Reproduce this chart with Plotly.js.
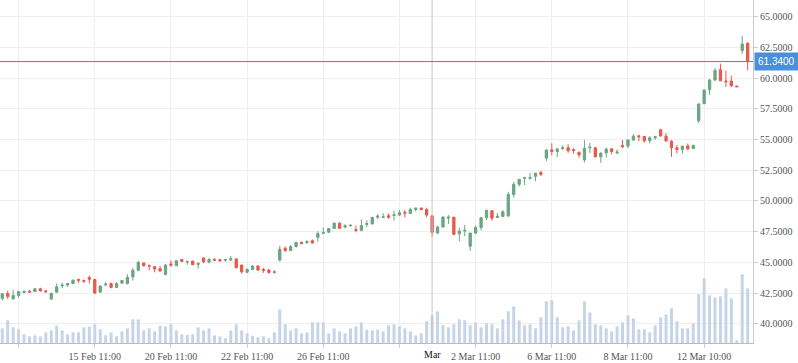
<!DOCTYPE html>
<html>
<head>
<meta charset="utf-8">
<script src="https://cdn.plot.ly/plotly-3.0.1.min.js"></script>
<style>html,body{margin:0;padding:0;background:#fff;}#chart{width:798px;height:363px;}</style>
</head>
<body>
<div id="chart"></div>
<script>
// Tick labels (bar index positions of the hourly bars)
const tickIndex = [3, 17, 31, 45, 59, 73, 87, 101, 115, 129];
const tickLabels = ["", "15 Feb 11:00", "20 Feb 11:00", "22 Feb 11:00", "26 Feb 11:00", "", "2 Mar 11:00", "6 Mar 11:00", "8 Mar 11:00", "12 Mar 10:00"];
const crossIndex = 79;
const crossLabel = "Mar";
const lastPrice = 61.34;

const open = [42.07,42.47,42.04,42.31,42.55,42.63,42.63,42.85,42.69,42.02,
42.58,43.09,43.15,43.28,43.60,43.52,43.76,43.60,42.58,43.17,
43.28,42.96,43.31,43.28,43.82,44.35,44.95,44.73,44.65,44.49,
44.01,44.87,44.73,45.24,45.03,
45.11,44.84,45.36,45.03,45.22,45.22,45.17,45.19,45.28,44.78,
44.20,44.42,44.70,44.42,44.37,44.18,45.19,46.15,45.96,46.29,
46.62,46.62,46.76,47.03,47.36,47.45,47.75,48.19,47.88,47.97,
47.67,47.61,48.08,48.13,48.68,
48.65,48.79,48.82,48.85,49.07,48.98,49.31,49.42,49.31,48.79,
47.39,47.88,48.60,48.68,47.33,47.55,46.32,47.39,47.83,48.63,
49.20,48.65,48.74,48.79,50.52,51.35,51.85,51.84,52.00,52.31,
53.49,54.15,54.02,54.26,
54.32,54.18,53.97,53.34,54.32,54.32,53.59,53.91,54.24,53.91,
54.51,54.46,54.95,55.30,55.24,54.89,55.14,55.79,55.27,54.86,
54.32,54.18,54.48,54.27,56.52,57.91,59.05,59.84,60.68,59.75,
59.75,59.35,62.23,62.83];

const high = [42.50,42.69,42.77,42.69,42.72,42.77,42.90,42.93,42.69,42.55,
43.28,43.36,43.28,43.60,43.68,43.60,43.92,43.66,43.17,43.39,
43.36,43.39,43.52,44.03,44.57,45.11,44.97,44.84,44.70,44.73,
44.87,45.16,45.19,45.27,45.11,
45.11,44.97,45.41,45.36,45.36,45.28,45.30,45.52,45.33,44.81,
44.51,44.78,44.78,44.56,44.48,44.37,46.35,46.29,46.43,46.70,
46.70,46.79,46.87,47.53,47.83,47.75,48.27,48.27,48.10,48.08,
47.99,48.49,48.41,48.71,48.93,
49.01,48.98,49.20,49.26,49.26,49.45,49.45,49.45,49.45,48.79,
47.99,48.79,48.85,48.68,47.83,48.05,47.39,47.99,48.63,49.31,
49.26,49.01,49.23,50.74,51.54,51.76,51.90,52.28,52.28,52.45,
54.23,54.70,54.31,54.53,
54.62,54.29,53.97,54.95,54.73,54.40,53.97,54.35,54.29,54.18,
54.95,55.03,55.43,55.35,55.30,55.27,55.30,55.87,55.52,54.95,
54.54,54.48,54.67,54.59,57.96,59.08,59.92,60.81,61.17,60.60,
60.19,59.35,63.42,62.93];

const low = [41.91,42.02,41.96,42.12,42.50,42.55,42.61,42.61,42.47,41.96,
42.50,42.90,43.01,43.23,43.33,43.33,43.28,42.45,42.50,43.06,
42.88,42.90,43.28,43.20,43.52,44.27,44.65,44.35,44.19,44.25,
43.95,44.65,44.68,45.08,44.81,
44.78,44.48,44.92,44.92,45.14,45.03,45.06,45.11,44.53,44.09,
44.12,44.37,44.34,44.15,44.07,44.07,45.06,45.85,45.93,46.21,
46.46,46.48,46.54,46.68,47.36,47.45,47.75,47.75,47.77,47.94,
47.45,47.53,47.86,48.10,48.52,
48.63,48.54,48.40,48.79,48.65,48.95,49.15,49.26,48.68,47.09,
47.30,47.83,48.13,47.22,46.73,47.14,45.93,47.30,47.61,48.46,
48.38,48.63,48.68,48.68,50.27,51.16,51.29,51.73,51.60,52.03,
53.24,53.71,53.57,54.15,
53.91,53.86,53.51,53.13,53.91,53.53,53.10,53.53,53.80,53.80,
54.32,54.29,54.89,54.86,54.73,54.67,54.97,55.22,54.81,53.59,
53.86,53.86,54.13,54.21,56.33,57.88,58.64,59.75,59.75,59.29,
59.29,59.29,61.96,60.65];

const close = [42.45,42.23,42.31,42.63,42.63,42.58,42.85,42.69,42.63,42.47,
43.01,43.15,43.28,43.55,43.55,43.47,43.63,42.50,43.06,43.23,
42.96,43.28,43.52,43.79,44.35,45.00,44.73,44.70,44.46,44.30,
44.78,44.78,45.13,45.08,45.08,
44.81,44.92,45.06,45.22,45.17,45.14,45.22,45.30,44.56,44.23,
44.42,44.70,44.37,44.34,44.18,44.23,46.07,45.96,46.29,46.62,
46.54,46.70,46.57,47.34,47.42,47.75,48.19,47.77,47.97,48.02,
47.61,47.99,48.16,48.65,48.76,
48.71,48.68,48.87,49.04,49.01,49.31,49.42,49.29,48.85,47.44,
47.88,48.68,48.68,47.28,47.55,47.61,47.39,47.83,48.63,49.23,
48.60,48.76,49.12,50.52,51.35,51.76,51.90,51.90,52.26,52.17,
54.13,54.02,54.23,54.34,
54.08,54.10,53.75,54.29,54.38,53.59,53.89,54.21,54.02,53.97,
54.40,54.95,55.27,55.22,54.89,55.14,55.22,55.30,54.89,54.32,
54.18,54.46,54.24,54.51,57.88,59.02,59.84,60.62,59.78,59.70,
59.37,59.29,62.77,61.34];

const volume = [440,680,470,410,260,200,230,200,320,380,
520,380,260,320,320,470,490,560,410,230,
320,200,350,440,710,710,380,440,350,520,
500,560,380,260,240,260,470,380,440,230,
200,140,380,560,380,290,220,170,200,140,
320,1010,560,380,440,290,320,620,620,620,
290,440,350,290,440,500,620,400,380,400,
350,530,560,500,440,350,230,290,650,830,
950,530,470,560,710,680,530,620,470,590,
560,440,710,950,1100,680,530,560,440,770,
1250,1280,770,470,500,380,680,1250,920,560,
530,440,350,500,620,830,740,410,410,320,
530,770,860,1040,650,440,440,590,1460,1940,
1430,1370,1400,1640,1340,80,2060,1640];

const idx = open.map((_, i) => i);

const traces = [
  {
    type: 'bar', x: idx, y: volume, yaxis: 'y2',
    marker: {color: '#c5d5e7', line: {width: 0}},
    hoverinfo: 'skip', showlegend: false
  },
  {
    type: 'candlestick', x: idx, open: open, high: high, low: low, close: close,
    increasing: {line: {color: '#6aa584', width: 1}, fillcolor: '#6aa584'},
    decreasing: {line: {color: '#e8584c', width: 1}, fillcolor: '#e8584c'},
    whiskerwidth: 0, showlegend: false, hoverinfo: 'skip'
  }
];

const font = {family: '"Liberation Serif", "Times New Roman", serif', size: 10, color: '#555'};

const layout = {
  width: 798, height: 363,
  margin: {l: 0, r: 45, t: 0, b: 20, pad: 0},
  paper_bgcolor: '#fff', plot_bgcolor: '#fff',
  font: font,
  showlegend: false,
  bargap: 0.45,
  boxgap: 0.4,
  xaxis: {
    range: [-0.42, 137.98],
    rangeslider: {visible: false},
    tickmode: 'array', tickvals: tickIndex, ticktext: tickLabels,
    showgrid: true, gridcolor: '#eeeeee', gridwidth: 1,
    showline: true, linecolor: '#bbbbbb', linewidth: 1,
    ticks: 'outside', ticklen: 4, tickcolor: '#cccccc',
    tickfont: font, zeroline: false, fixedrange: true
  },
  yaxis: {
    side: 'right', range: [38.44, 66.35],
    tickmode: 'array', tickvals: [40, 42.5, 45, 47.5, 50, 52.5, 55, 57.5, 60, 62.5, 65],
    tickformat: '.4f',
    showgrid: true, gridcolor: '#eeeeee', gridwidth: 1,
    showline: true, linecolor: '#cccccc', linewidth: 1,
    ticks: 'outside', ticklen: 4, tickcolor: '#cccccc',
    tickfont: font, zeroline: false, fixedrange: true
  },
  yaxis2: {
    overlaying: 'y', side: 'left', range: [0, 10290], visible: false, fixedrange: true
  },
  shapes: [
    {type: 'line', xref: 'x', yref: 'paper', x0: crossIndex, x1: crossIndex, y0: 0, y1: 1,
     line: {color: '#c4c4c4', width: 1}},
    {type: 'line', xref: 'paper', yref: 'y', x0: 0, x1: 1, y0: lastPrice, y1: lastPrice,
     line: {color: '#5b7fa6', width: 1}}
  ],
  annotations: [
    {xref: 'x', yref: 'paper', x: crossIndex, y: 0, yanchor: 'top', yshift: -4,
     text: crossLabel, showarrow: false,
     font: {family: '"Liberation Serif", serif', size: 10, color: '#111'}},
    {xref: 'paper', yref: 'y', x: 1, y: lastPrice, xanchor: 'left', xshift: 1,
     text: lastPrice.toFixed(4), showarrow: false, bgcolor: '#4a8fd9', borderpad: 3,
     font: {family: '"Liberation Sans", Arial, sans-serif', size: 10, color: '#ffffff'}}
  ]
};

Plotly.newPlot('chart', traces, layout, {staticPlot: true, displayModeBar: false});
</script>
</body>
</html>
